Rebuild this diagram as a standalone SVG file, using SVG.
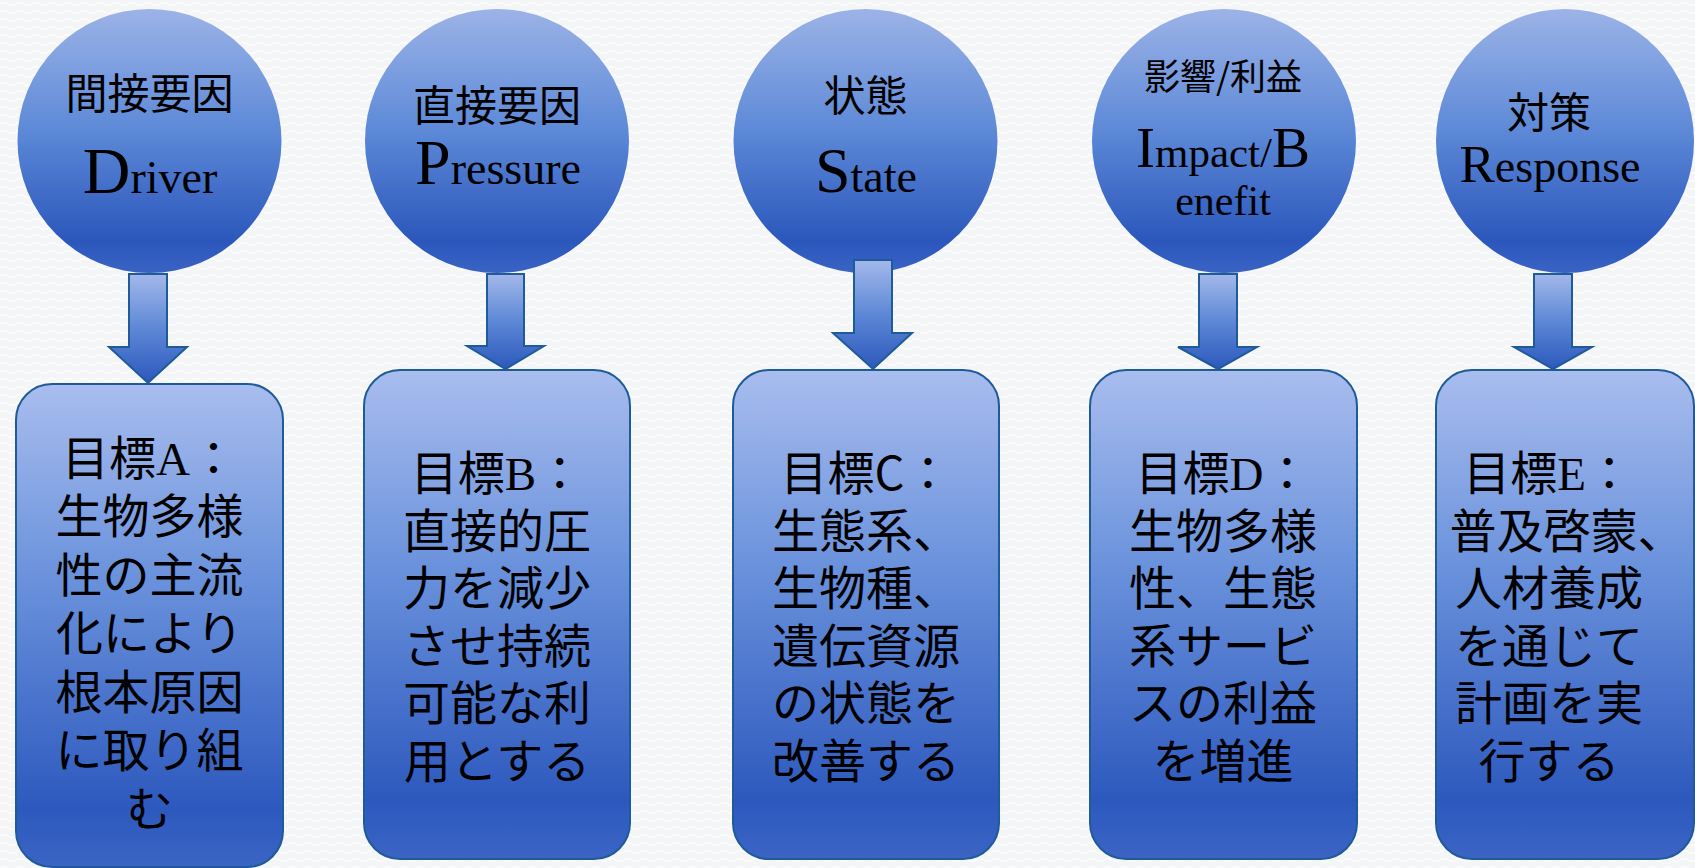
<svg xmlns="http://www.w3.org/2000/svg" width="1695" height="868" viewBox="0 0 1695 868">
<defs>
  <pattern id="bgp" width="16" height="8" patternUnits="userSpaceOnUse">
    <rect width="16" height="8" fill="#f4f5f6"/>
    <path d="M0 4 Q4 1 8 4 T16 4" fill="none" stroke="#fdfdfd" stroke-width="1.5"/>
  </pattern>
  <linearGradient id="gCircle" x1="0" y1="0" x2="0" y2="1">
    <stop offset="0" stop-color="#9cb3e7"/>
    <stop offset="0.45" stop-color="#5e8ad8"/>
    <stop offset="0.88" stop-color="#2b57bc"/>
    <stop offset="1" stop-color="#3a63c3"/>
  </linearGradient>
  <linearGradient id="gBox" x1="0" y1="0" x2="0" y2="1">
    <stop offset="0" stop-color="#a9bdee"/>
    <stop offset="0.4" stop-color="#6a92dc"/>
    <stop offset="0.88" stop-color="#2d59be"/>
    <stop offset="1" stop-color="#3b64c4"/>
  </linearGradient>
  <linearGradient id="gArrow" x1="0" y1="0" x2="0" y2="1">
    <stop offset="0" stop-color="#a3b8ea"/>
    <stop offset="0.5" stop-color="#5d88d6"/>
    <stop offset="1" stop-color="#2c58bd"/>
  </linearGradient>
  <style>
    .circ { fill: url(#gCircle); }
    .box { fill: url(#gBox); stroke: #1f5b99; stroke-width: 2; }
    .arrow { fill: url(#gArrow); stroke: #1f5b99; stroke-width: 2; stroke-linejoin: miter; }
    .jp { font-family: "Noto Sans CJK JP", "Noto Sans", sans-serif; fill: #000; text-anchor: middle; }
    .hd { font-size: 42px; }
    .bt { font-size: 47px; }
    .lat { font-family: "Liberation Serif", "DejaVu Serif", serif; fill: #000; text-anchor: middle; }
    .ser { font-family: "Liberation Serif", "DejaVu Serif", serif; }
  </style>
</defs>
<rect width="1695" height="868" fill="url(#bgp)"/>

<g id="node-driver">
  <circle class="circ" cx="149.5" cy="141" r="132"/>
  <text class="jp hd" x="149.5" y="109">間接要因</text>
  <text class="lat" x="150" y="193"><tspan font-size="66">D</tspan><tspan font-size="46">river</tspan></text>
</g>
<g id="node-pressure">
  <circle class="circ" cx="497" cy="141" r="132"/>
  <text class="jp hd" x="497" y="121">直接要因</text>
  <text class="lat" x="498" y="184"><tspan font-size="64">P</tspan><tspan font-size="46">ressure</tspan></text>
</g>
<g id="node-state">
  <circle class="circ" cx="865.5" cy="141" r="132"/>
  <text class="jp hd" x="865.5" y="111">状態</text>
  <text class="lat" x="866" y="192"><tspan font-size="64">S</tspan><tspan font-size="46">tate</tspan></text>
</g>
<g id="node-impact">
  <circle class="circ" cx="1224" cy="141" r="132"/>
  <text class="jp" x="1223" y="90" font-size="36">影響/利益</text>
  <text class="lat" x="1223" y="167"><tspan font-size="57">I</tspan><tspan font-size="43">mpact/</tspan><tspan font-size="57">B</tspan><tspan x="1223" y="215" font-size="42">enefit</tspan></text>
</g>
<g id="node-response">
  <ellipse class="circ" cx="1565" cy="141" rx="129" ry="132"/>
  <text class="jp hd" x="1549" y="128">対策</text>
  <text class="lat" x="1550" y="182"><tspan font-size="53">R</tspan><tspan font-size="46">esponse</tspan></text>
</g>

<g id="node-goalA">
  <rect class="box" x="16" y="384" width="267" height="483" rx="36" ry="36"/>
  <text class="jp bt" x="149.5" y="475">目標<tspan class="ser">A</tspan>：<tspan x="149.5" y="533">生物多様</tspan><tspan x="149.5" y="592">性の主流</tspan><tspan x="149.5" y="650">化により</tspan><tspan x="149.5" y="709">根本原因</tspan><tspan x="149.5" y="767">に取り組</tspan><tspan x="149.5" y="826">む</tspan></text>
</g>
<g id="node-goalB">
  <rect class="box" x="364" y="370" width="266" height="489" rx="36" ry="36"/>
  <text class="jp bt" x="497" y="490">目標<tspan class="ser">B</tspan>：<tspan x="497" y="547.5">直接的圧</tspan><tspan x="497" y="605">力を減少</tspan><tspan x="497" y="662.5">させ持続</tspan><tspan x="497" y="720">可能な利</tspan><tspan x="497" y="777.5">用とする</tspan></text>
</g>
<g id="node-goalC">
  <rect class="box" x="733" y="370" width="266" height="489" rx="36" ry="36"/>
  <text class="jp bt" x="866" y="490">目標C：<tspan x="866" y="547.5">生態系、</tspan><tspan x="866" y="605">生物種、</tspan><tspan x="866" y="662.5">遺伝資源</tspan><tspan x="866" y="720">の状態を</tspan><tspan x="866" y="777.5">改善する</tspan></text>
</g>
<g id="node-goalD">
  <rect class="box" x="1090" y="370" width="267" height="489" rx="36" ry="36"/>
  <text class="jp bt" x="1223" y="490">目標<tspan class="ser">D</tspan>：<tspan x="1223" y="547.5">生物多様</tspan><tspan x="1223" y="605">性、生態</tspan><tspan x="1223" y="662.5">系サービ</tspan><tspan x="1223" y="720">スの利益</tspan><tspan x="1223" y="777.5">を増進</tspan></text>
</g>
<g id="node-goalE">
  <rect class="box" x="1436" y="370" width="258" height="489" rx="36" ry="36"/>
  <text class="jp bt" x="1548" y="490">目標<tspan class="ser">E</tspan>：<tspan x="1567" y="547.5">普及啓蒙、</tspan><tspan x="1549" y="605">人材養成</tspan><tspan x="1549" y="662.5">を通じて</tspan><tspan x="1549" y="720">計画を実</tspan><tspan x="1549" y="777.5">行する</tspan></text>
</g>

<g id="connectors">
  <polygon class="arrow" points="129,274 167,274 167,347 187,347 148,383 109,347 129,347"/>
  <polygon class="arrow" points="487,274 524,274 524,346 544,346 505.5,369 467,346 487,346"/>
  <polygon class="arrow" points="854,260 892,260 892,333 912,333 873,369 833,333 854,333"/>
  <polygon class="arrow" points="1199,274 1237,274 1237,347 1257,347 1218,369 1178,347 1199,347"/>
  <polygon class="arrow" points="1534,274 1572,274 1572,347 1592,347 1553,369 1514,347 1534,347"/>
</g>
</svg>
